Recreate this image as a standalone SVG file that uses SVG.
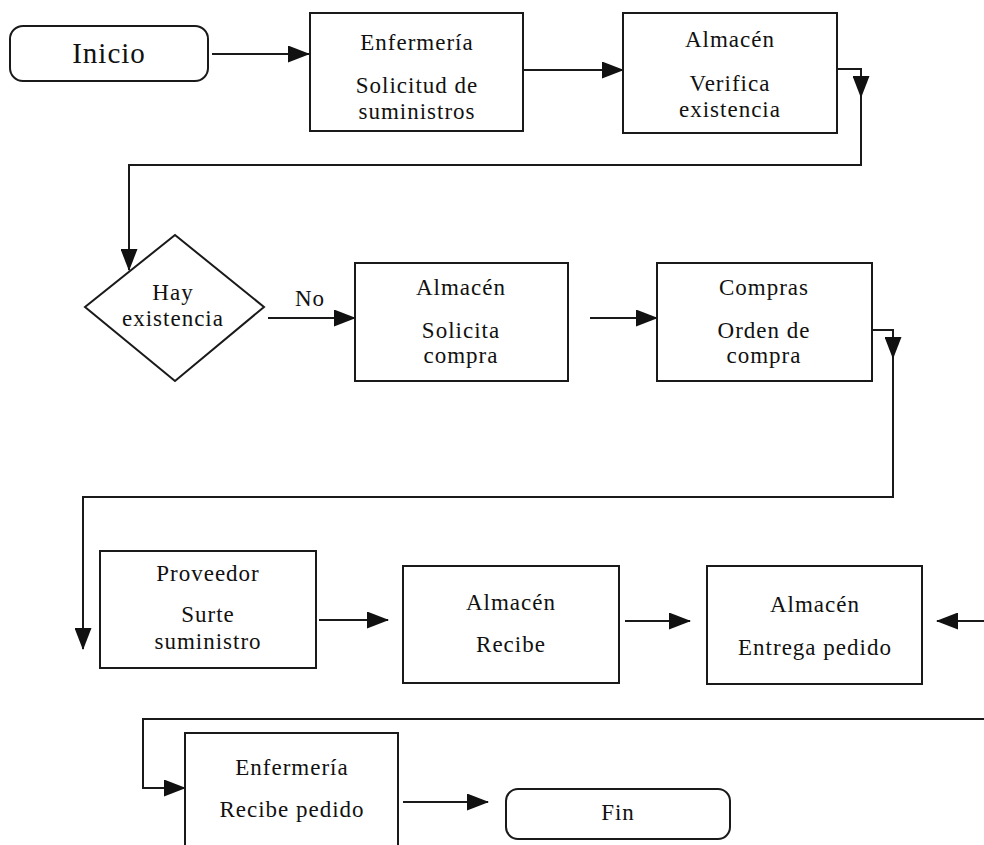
<svg xmlns="http://www.w3.org/2000/svg" width="984" height="845" viewBox="0 0 984 845">
<style>
.box{fill:#fff;stroke:#1a1a1a;stroke-width:2}
.ln{fill:none;stroke:#1a1a1a;stroke-width:2;marker-end:url(#ah)}
text{font-family:"Liberation Serif","Times New Roman",serif;font-size:23px;fill:#111;text-anchor:middle;letter-spacing:1px}
.big{font-size:29px}
</style>
<defs>
<marker id="ah" viewBox="0 0 22 17" refX="21" refY="8.5" markerWidth="22" markerHeight="17" markerUnits="userSpaceOnUse" orient="auto">
<path d="M0,0 L22,8.5 L0,17 z" fill="#111"/>
</marker>
</defs>
<rect width="984" height="845" fill="#fff"/>
<g id="connectors">
<path class="ln" d="M212,54 H309"/>
<path class="ln" d="M524,70 H623"/>
<path class="ln" d="M837,69 H861 V97"/>
<path class="ln" d="M861,97 V165 H129 V270"/>
<path class="ln" d="M268,318 H355"/>
<path class="ln" d="M590,318 H657"/>
<path class="ln" d="M872,330 H893 V358"/>
<path class="ln" d="M893,358 V497 H83 V649"/>
<path class="ln" d="M319,620 H388"/>
<path class="ln" d="M625,621 H690"/>
<path class="ln" d="M984,621 H937"/>
<path class="ln" d="M984,719 H143 V788 H185"/>
<path class="ln" d="M403,802 H488"/>
</g>
<g id="inicio">
<rect class="box" x="10" y="26" width="198" height="55" rx="13"/>
<text class="big" x="109" y="63">Inicio</text>
</g>
<g id="enfermeria1">
<rect class="box" x="310" y="13" width="213" height="118"/>
<text x="417" y="50">Enfermería</text>
<text x="417" y="93">Solicitud de</text>
<text x="417" y="119">suministros</text>
</g>
<g id="almacen1">
<rect class="box" x="623" y="13" width="214" height="120"/>
<text x="730" y="47">Almacén</text>
<text x="730" y="91">Verifica</text>
<text x="730" y="117">existencia</text>
</g>
<g id="decision">
<polygon class="box" points="175,235 264,307 175,381 85,307"/>
<text x="173" y="300">Hay</text>
<text x="173" y="326">existencia</text>
<text x="310" y="306">No</text>
</g>
<g id="almacen2">
<rect class="box" x="355" y="263" width="213" height="118"/>
<text x="461" y="295">Almacén</text>
<text x="461" y="338">Solicita</text>
<text x="461" y="363">compra</text>
</g>
<g id="compras">
<rect class="box" x="657" y="263" width="215" height="118"/>
<text x="764" y="295">Compras</text>
<text x="764" y="338">Orden de</text>
<text x="764" y="363">compra</text>
</g>
<g id="proveedor">
<rect class="box" x="100" y="551" width="216" height="117"/>
<text x="208" y="581">Proveedor</text>
<text x="208" y="622">Surte</text>
<text x="208" y="649">suministro</text>
</g>
<g id="almacen3">
<rect class="box" x="403" y="566" width="216" height="117"/>
<text x="511" y="610">Almacén</text>
<text x="511" y="652">Recibe</text>
</g>
<g id="almacen4">
<rect class="box" x="707" y="566" width="215" height="118"/>
<text x="815" y="612">Almacén</text>
<text x="815" y="655">Entrega pedido</text>
</g>
<g id="enfermeria2">
<rect class="box" x="185" y="733" width="213" height="130"/>
<text x="292" y="775">Enfermería</text>
<text x="292" y="817">Recibe pedido</text>
</g>
<g id="fin">
<rect class="box" x="506" y="789" width="224" height="50" rx="12"/>
<text x="618" y="820">Fin</text>
</g>
</svg>
